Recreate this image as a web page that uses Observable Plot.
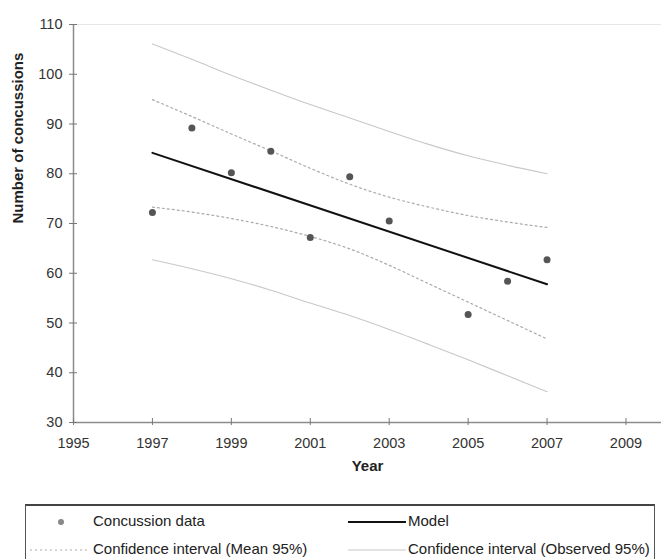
<!DOCTYPE html>
<html><head><meta charset="utf-8">
<script src="https://cdn.jsdelivr.net/npm/d3@7"></script>
<script src="https://cdn.jsdelivr.net/npm/@observablehq/plot@0.6"></script>
<style>
body{margin:0;background:#fff;font-family:"Liberation Sans",Arial,sans-serif;}
#wrap{position:relative;width:661px;height:559px;overflow:hidden;background:#fff;}
#legend{position:absolute;left:25px;top:504px;width:630px;height:70px;border:1px solid #555;border-top:2px solid #444;box-sizing:border-box;font-size:15px;color:#222;}
.item{position:absolute;height:20px;line-height:20px;white-space:nowrap;}
.sw{position:absolute;}
</style></head><body><div id="wrap"><div id="chart"></div><div id="legend"></div></div>
<script>
// Observed data
const years = [1997, 1998, 1999, 2000, 2001, 2002, 2003, 2005, 2006, 2007];
const concussions = [72.2, 89.2, 80.2, 84.5, 67.2, 79.4, 70.5, 51.7, 58.4, 62.7];
// Model (regression line)
const modelYears = [1997, 2007];
const modelValues = [84.2, 57.8];
// Confidence bands
const ciYears = [1997, 1998, 1999, 2000, 2001, 2002, 2003, 2004, 2005, 2006, 2007];
const meanUpper = [94.9, 91.5, 88.0, 84.6, 81.1, 77.9, 75.3, 73.3, 71.6, 70.3, 69.2];
const meanLower = [73.3, 72.3, 71.0, 69.4, 67.4, 64.9, 61.6, 57.9, 54.2, 50.5, 46.8];
const obsUpper = [106.1, 103.0, 99.8, 96.8, 93.9, 91.2, 88.5, 85.9, 83.6, 81.7, 80.0];
const obsLower = [62.7, 60.9, 58.9, 56.6, 54.0, 51.5, 48.7, 45.7, 42.6, 39.4, 36.2];
// Ticks
const xTicks = [1995, 1997, 1999, 2001, 2003, 2005, 2007, 2009];
const yTicks = [30, 40, 50, 60, 70, 80, 90, 100, 110];
const xTitle = "Year";
const yTitle = "Number of concussions";
const legendLabels = ["Concussion data", "Model", "Confidence interval (Mean 95%)", "Confidence interval (Observed 95%)"];

const pts = years.map((y, i) => ({year: y, value: concussions[i]}));
const model = modelYears.map((y, i) => ({year: y, value: modelValues[i]}));
const band = ciYears.map((y, i) => ({year: y, mu: meanUpper[i], ml: meanLower[i], ou: obsUpper[i], ol: obsLower[i]}));

const font = "Liberation Sans, Arial, sans-serif";
const chart = Plot.plot({
  width: 661, height: 500,
  marginLeft: 73, marginRight: 0, marginTop: 24, marginBottom: 78,
  style: {fontFamily: font, background: "#fff", color: "#333"},
  x: {domain: [1995, 2009.9], label: null},
  y: {domain: [30, 110], label: null},
  marks: [
    Plot.frame({stroke: "#e6e6e6"}),
    Plot.line(band, {x: "year", y: "ou", stroke: "#c8c8c8", strokeWidth: 1.1, curve: "monotone-x"}),
    Plot.line(band, {x: "year", y: "ol", stroke: "#c8c8c8", strokeWidth: 1.1, curve: "monotone-x"}),
    Plot.line(band, {x: "year", y: "mu", stroke: "#aaa", strokeWidth: 1.2, strokeDasharray: "2,3", curve: "monotone-x"}),
    Plot.line(band, {x: "year", y: "ml", stroke: "#aaa", strokeWidth: 1.2, strokeDasharray: "2,3", curve: "monotone-x"}),
    Plot.line(model, {x: "year", y: "value", stroke: "#111", strokeWidth: 2}),
    Plot.dot(pts, {x: "year", y: "value", fill: "#555", r: 3.5}),
    Plot.ruleX([1995], {stroke: "#8c8c8c", strokeWidth: 1.5}),
    Plot.ruleY([30], {stroke: "#8c8c8c", strokeWidth: 1.5}),
    Plot.axisY(yTicks, {text: null, tickSize: 8, dx: 4, stroke: "#777", label: null}),
    Plot.axisY(yTicks, {tickSize: 0, tickPadding: 11, fontSize: 14.5, fill: "#333", label: null}),
    Plot.axisX(xTicks, {text: null, tickSize: 7, dy: -4, stroke: "#777", label: null}),
    Plot.axisX(xTicks, {tickSize: 0, tickPadding: 15, fontSize: 14.5, fill: "#333", tickFormat: d => String(d), label: null}),
    Plot.text([yTitle], {frameAnchor: "left", rotate: -90, dx: -55, fontSize: 15, fontWeight: "bold", fill: "#222", text: d => d}),
    Plot.text([xTitle], {frameAnchor: "bottom", dy: 48, fontSize: 15, fontWeight: "bold", fill: "#222", text: d => d})
  ]
});
document.getElementById("chart").appendChild(chart);

// Legend
const lg = document.getElementById("legend");
function add(html){ lg.insertAdjacentHTML("beforeend", html); }
add(`<svg class="sw" style="left:30px;top:10px" width="10" height="12"><circle cx="5" cy="6" r="3" fill="#888"/></svg>`);
add(`<div class="item" style="left:67px;top:5px">${legendLabels[0]}</div>`);
add(`<svg class="sw" style="left:322px;top:10px" width="58" height="12"><line x1="0" x2="58" y1="6" y2="6" stroke="#111" stroke-width="2"/></svg>`);
add(`<div class="item" style="left:382px;top:5px">${legendLabels[1]}</div>`);
add(`<svg class="sw" style="left:4px;top:38px" width="58" height="12"><line x1="0" x2="58" y1="6" y2="6" stroke="#aaa" stroke-width="1.2" stroke-dasharray="2,3"/></svg>`);
add(`<div class="item" style="left:67px;top:33px">${legendLabels[2]}</div>`);
add(`<svg class="sw" style="left:322px;top:38px" width="58" height="12"><line x1="0" x2="58" y1="6" y2="6" stroke="#c8c8c8" stroke-width="1.2"/></svg>`);
add(`<div class="item" style="left:382px;top:33px">${legendLabels[3]}</div>`);
</script></body></html>
